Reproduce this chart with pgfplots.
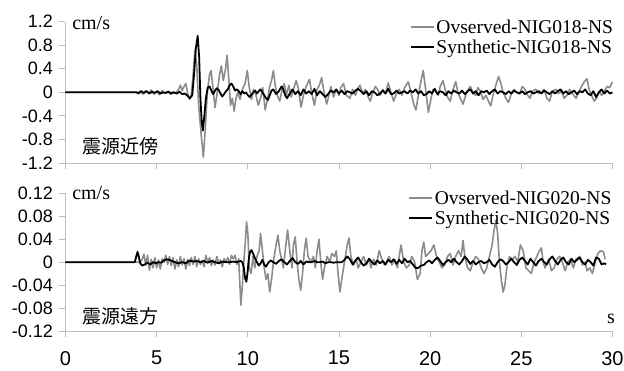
\documentclass[border=0pt]{standalone}
\usepackage{fontspec}
\setmainfont{Liberation Serif}
\newfontfamily\arialfont{Liberation Sans}
\newfontfamily\jpfont{Noto Sans CJK JP}
\usepackage{pgfplots}
\pgfplotsset{compat=1.18}
\definecolor{obsgray}{RGB}{140,140,140}
\definecolor{axgray}{RGB}{190,190,190}

\pgfplotstableread{
x y
0 0
4.0 0
4.1 0.02
4.25 -0.03
4.4 0.03
4.55 -0.02
4.7 0.04
4.85 -0.03
5.0 0.02
5.15 -0.04
5.3 0.03
5.45 -0.02
5.6 0.02
5.75 -0.03
5.9 0.01
6.05 -0.02
6.2 0.05
6.3 0.12
6.4 0.03
6.5 0.1
6.6 0.15
6.7 -0.02
6.8 -0.12
6.9 -0.05
7.0 0.3
7.1 0.72
7.2 0.45
7.3 -0.2
7.45 -0.75
7.56 -1.1
7.66 -0.65
7.78 0.0
7.9 0.3
7.98 0.37
8.08 0.1
8.2 -0.26
8.3 -0.05
8.45 0.3
8.55 0.45
8.65 0.2
8.78 0.4
8.86 0.63
8.95 0.25
9.05 -0.22
9.15 -0.1
9.25 -0.32
9.35 -0.1
9.45 0.0
9.57 -0.12
9.7 0.05
9.85 0.15
9.97 0.37
10.07 0.1
10.2 -0.12
10.32 0.05
10.45 -0.05
10.57 -0.22
10.7 -0.1
10.82 0.08
10.95 -0.3
11.08 -0.12
11.2 0.1
11.3 0.2
11.4 0.37
11.5 0.12
11.62 -0.05
11.75 -0.15
11.88 0.05
12.0 0.15
12.12 -0.05
12.25 0.12
12.38 -0.08
12.5 0.05
12.65 0.2
12.78 0.05
12.92 -0.25
13.05 -0.05
13.2 0.1
13.38 0.22
13.5 0.0
13.65 -0.22
13.8 0.05
13.92 0.12
14.05 0.25
14.18 0.0
14.32 -0.2
14.45 -0.05
14.55 0.1
14.7 -0.08
14.85 0.05
15.0 -0.05
15.1 0.08
15.25 0.15
15.4 -0.05
15.6 -0.1
15.75 0.05
15.9 -0.05
16.05 0.08
16.15 0.12
16.3 -0.02
16.45 0.05
16.6 -0.08
16.72 -0.15
16.85 0.0
17.0 0.1
17.12 0.05
17.25 -0.05
17.4 0.05
17.55 -0.02
17.7 0.16
17.85 0.0
18.0 -0.15
18.15 -0.02
18.3 0.05
18.45 -0.05
18.6 0.08
18.8 0.18
18.95 0.0
19.1 -0.2
19.22 -0.3
19.35 -0.05
19.5 0.2
19.62 0.37
19.75 0.05
19.9 -0.34
20.02 -0.15
20.15 0.05
20.3 0.02
20.45 -0.05
20.55 0.1
20.7 0.2
20.82 0.05
20.95 -0.08
21.1 -0.15
21.25 0.05
21.4 0.18
21.52 0.0
21.65 -0.1
21.8 -0.2
21.95 -0.05
22.1 0.05
22.2 0.1
22.35 0.0
22.5 -0.05
22.62 0.08
22.75 0.02
22.9 -0.12
23.05 -0.05
23.2 -0.15
23.32 -0.23
23.45 -0.05
23.6 0.12
23.75 0.27
23.88 0.15
24.0 0.0
24.15 -0.1
24.3 -0.17
24.45 -0.02
24.6 0.05
24.75 0.0
24.9 -0.02
25.05 0.1
25.2 0.05
25.35 -0.05
25.48 -0.1
25.6 0.02
25.8 0.05
25.95 -0.02
26.1 0.0
26.25 0.05
26.4 -0.1
26.55 -0.15
26.7 0.02
26.9 0.05
27.05 -0.02
27.2 0.02
27.35 -0.1
27.5 -0.05
27.65 0.05
27.8 -0.02
28.0 -0.1
28.15 0.0
28.3 0.1
28.45 0.18
28.6 0.23
28.72 0.05
28.85 -0.05
29.0 -0.15
29.12 -0.1
29.28 0.02
29.4 -0.05
29.55 0.02
29.7 0.1
29.85 0.08
30.0 0.18
}\obsA

\pgfplotstableread{
x y
0 0
3.9 0
4.0 -0.02
4.15 0.02
4.3 -0.01
4.45 0.02
4.6 -0.02
4.75 0.01
4.9 -0.01
5.05 0.02
5.2 -0.02
5.35 0.0
5.5 -0.01
5.65 0.01
5.8 -0.02
5.95 0.0
6.1 -0.02
6.25 0.01
6.4 -0.03
6.55 -0.02
6.7 -0.06
6.82 -0.1
6.95 -0.05
7.05 0.3
7.15 0.75
7.25 0.96
7.33 0.6
7.4 -0.1
7.47 -0.5
7.53 -0.65
7.6 -0.45
7.7 -0.1
7.8 0.08
7.9 0.1
8.0 0.03
8.1 -0.03
8.2 0.03
8.3 0.07
8.4 0.04
8.5 -0.02
8.6 -0.07
8.7 -0.03
8.8 0.02
8.9 0.05
9.0 0.12
9.1 0.15
9.2 0.1
9.3 0.03
9.4 0.05
9.5 0.02
9.6 -0.03
9.7 0.02
9.8 -0.02
9.9 0.0
10.0 -0.05
10.1 -0.08
10.2 -0.04
10.3 0.0
10.4 0.03
10.5 -0.02
10.6 0.02
10.7 0.05
10.8 0.0
10.9 -0.05
11.0 -0.1
11.1 -0.13
11.2 -0.05
11.3 0.03
11.4 0.05
11.55 -0.03
11.7 0.02
11.85 0.1
11.95 0.05
12.05 -0.05
12.15 -0.1
12.3 -0.02
12.45 0.05
12.6 -0.03
12.75 0.02
12.9 -0.05
13.05 0.05
13.2 -0.02
13.35 0.02
13.5 -0.03
13.65 0.06
13.8 -0.05
13.95 0.02
14.1 -0.03
14.25 -0.08
14.4 -0.03
14.55 0.03
14.7 0.0
14.85 0.05
15.0 -0.02
15.15 0.03
15.3 -0.03
15.45 0.02
15.6 0.0
15.75 -0.02
15.9 0.03
16.05 0.06
16.2 0.02
16.35 -0.03
16.5 0.02
16.65 -0.05
16.8 0.02
16.95 0.0
17.1 -0.05
17.25 -0.02
17.4 0.03
17.55 -0.02
17.7 0.06
17.85 -0.03
18.0 -0.02
18.15 0.03
18.3 -0.02
18.45 0.0
18.6 0.02
18.75 -0.02
18.9 0.03
19.05 0.0
19.2 0.05
19.35 -0.02
19.5 0.02
19.65 -0.05
19.8 -0.03
19.95 0.02
20.1 -0.02
20.25 0.06
20.4 -0.03
20.55 0.02
20.7 0.0
20.85 -0.05
21.0 0.02
21.15 -0.02
21.3 0.03
21.45 0.0
21.6 -0.02
21.75 0.03
21.9 -0.03
22.05 0.02
22.2 0.05
22.35 -0.02
22.5 0.02
22.65 -0.05
22.8 0.02
22.95 0.0
23.1 0.03
23.25 -0.03
23.4 0.02
23.55 0.05
23.7 -0.02
23.85 0.02
24.0 0.0
24.15 -0.03
24.3 0.02
24.45 -0.02
24.6 0.03
24.75 0.0
24.9 -0.02
25.05 0.02
25.2 -0.03
25.35 0.0
25.5 0.02
25.65 -0.02
25.8 0.0
25.95 0.02
26.1 -0.02
26.25 0.03
26.4 0.0
26.55 -0.03
26.7 0.02
26.85 -0.02
27.0 0.02
27.15 0.05
27.3 -0.02
27.45 0.02
27.6 -0.03
27.75 0.0
27.9 0.03
28.05 -0.03
28.2 0.02
28.35 0.0
28.5 0.05
28.65 -0.02
28.8 -0.05
28.95 0.02
29.1 -0.08
29.25 0.0
29.4 0.05
29.55 -0.02
29.7 0.03
29.85 -0.02
30.0 0.0
}\synA

\pgfplotstableread{
x y
0 0
4.1 0
4.2 0.005
4.3 0.014
4.4 -0.005
4.5 0.012
4.6 -0.014
4.7 0.005
4.8 -0.01
4.9 0.008
5.0 -0.01
5.1 0.004
5.2 -0.012
5.3 0.006
5.4 0.0
5.5 0.012
5.6 -0.004
5.7 0.01
5.8 -0.006
5.9 0.008
6.0 -0.012
6.1 0.004
6.2 -0.008
6.3 0.01
6.4 -0.005
6.5 0.006
6.6 -0.012
6.7 0.005
6.8 -0.006
6.9 0.008
7.0 -0.004
7.1 0.01
7.2 -0.008
7.3 0.006
7.4 -0.004
7.5 0.003
7.6 -0.008
7.7 0.012
7.8 0.0
7.9 0.008
8.0 -0.006
8.1 0.004
8.2 -0.005
8.3 0.01
8.4 -0.002
8.5 0.004
8.6 -0.008
8.7 0.006
8.8 0.0
8.9 0.008
9.0 -0.004
9.1 0.012
9.2 0.006
9.3 0.012
9.4 -0.004
9.5 0.006
9.55 -0.03
9.62 -0.075
9.7 -0.04
9.78 0.0
9.85 0.03
9.93 0.07
10.0 0.05
10.08 -0.01
10.18 -0.02
10.28 0.01
10.38 -0.01
10.5 0.01
10.62 0.02
10.7 0.05
10.8 0.02
10.9 -0.01
11.0 -0.03
11.1 -0.02
11.2 -0.052
11.3 -0.03
11.42 0.005
11.55 0.03
11.65 0.047
11.75 0.02
11.85 0.005
11.95 -0.01
12.05 0.02
12.18 0.056
12.3 0.02
12.42 -0.01
12.5 0.03
12.6 0.044
12.7 0.0
12.8 -0.03
12.9 -0.049
13.0 -0.02
13.1 0.02
13.2 0.042
13.3 0.01
13.45 0.0
13.6 0.01
13.7 -0.01
13.8 0.02
13.9 0.04
14.0 0.0
14.1 -0.03
14.2 -0.01
14.35 0.01
14.5 0.0
14.6 0.015
14.75 0.01
14.85 0.02
14.95 -0.02
15.05 -0.052
15.15 -0.03
15.3 0.0
15.45 0.03
15.55 0.042
15.65 0.01
15.8 -0.005
15.95 0.005
16.05 -0.01
16.2 0.0
16.35 0.01
16.5 -0.005
16.65 0.005
16.75 -0.01
16.9 0.005
17.05 -0.005
17.2 0.02
17.35 0.005
17.5 -0.005
17.6 0.0
17.75 0.01
17.9 -0.005
18.05 0.005
18.2 -0.01
18.3 0.01
18.4 0.03
18.55 0.0
18.7 -0.01
18.85 -0.005
19.0 0.01
19.15 0.0
19.3 -0.03
19.45 -0.02
19.55 0.02
19.65 0.035
19.75 0.01
19.9 0.015
20.05 0.02
20.2 0.03
20.35 0.01
20.5 0.0
20.65 -0.01
20.8 -0.005
20.95 0.01
21.1 0.015
21.25 -0.005
21.4 0.01
21.55 0.02
21.7 0.01
21.8 0.038
21.9 0.01
22.05 -0.01
22.2 -0.015
22.35 0.0
22.5 0.01
22.65 0.005
22.8 -0.01
22.95 -0.02
23.1 -0.01
23.25 0.01
23.4 0.03
23.5 0.055
23.6 0.073
23.7 0.05
23.8 0.0
23.9 -0.03
24.0 -0.052
24.1 -0.04
24.2 -0.01
24.35 0.01
24.5 0.005
24.65 0.01
24.8 0.0
24.95 0.03
25.1 0.02
25.25 -0.01
25.4 -0.015
25.55 -0.02
25.7 0.0
25.85 0.01
26.0 0.02
26.1 0.025
26.2 0.0
26.3 -0.01
26.5 0.005
26.65 -0.015
26.8 -0.01
26.95 0.005
27.1 0.01
27.25 0.0
27.4 -0.015
27.55 0.0
27.7 0.005
27.85 -0.01
28.0 0.005
28.2 0.01
28.35 -0.005
28.5 0.0
28.6 -0.015
28.75 -0.01
28.9 -0.02
29.05 0.0
29.2 0.015
29.35 0.02
29.5 0.018
29.6 0.005
}\obsB

\pgfplotstableread{
x y
0 0
3.8 0
3.88 0.01
3.95 0.018
4.02 0.01
4.1 -0.002
4.2 -0.006
4.35 -0.004
4.5 -0.001
4.65 -0.004
4.8 0.0
4.95 -0.002
5.1 0.0
5.25 -0.001
5.4 0.003
5.55 0.005
5.7 0.004
5.85 0.002
6.0 0.0
6.2 -0.002
6.4 0.0
6.6 -0.002
6.8 0.003
7.0 0.001
7.2 0.002
7.4 0.0
7.6 0.002
7.8 -0.001
8.0 0.002
8.2 0.0
8.4 -0.002
8.6 0.001
8.8 0.0
9.0 0.0
9.2 0.001
9.4 0.0
9.6 0.002
9.7 0.0
9.78 -0.01
9.85 -0.028
9.92 -0.034
9.98 -0.02
10.05 0.005
10.12 0.018
10.2 0.021
10.3 0.014
10.4 0.006
10.5 0.0
10.6 -0.006
10.7 -0.002
10.8 0.004
10.9 -0.004
11.0 -0.008
11.1 -0.002
11.25 0.003
11.4 0.0
11.55 -0.003
11.7 0.002
11.85 0.005
12.0 0.0
12.15 -0.004
12.3 0.002
12.45 0.007
12.6 0.0
12.75 -0.003
12.9 0.002
13.05 -0.004
13.2 0.001
13.35 0.0
13.5 0.0
13.65 0.002
13.8 0.0
13.95 0.0
14.1 0.001
14.25 -0.002
14.4 0.0
14.55 0.0
14.7 -0.001
14.85 0.0
15.0 0.0
15.15 0.0
15.3 0.004
15.45 0.01
15.6 0.005
15.75 -0.004
15.9 0.003
16.05 0.008
16.2 0.0
16.35 -0.006
16.5 -0.002
16.65 0.006
16.8 0.0
16.95 -0.004
17.1 0.003
17.25 -0.002
17.4 0.002
17.55 -0.004
17.7 0.004
17.85 0.0
18.0 0.005
18.15 -0.003
18.3 0.004
18.45 -0.002
18.6 0.006
18.75 0.0
18.9 0.002
19.05 -0.004
19.2 -0.01
19.35 -0.01
19.5 -0.006
19.65 -0.005
19.8 0.0
19.95 0.003
20.1 -0.002
20.25 0.004
20.4 0.008
20.55 0.002
20.7 -0.005
20.85 0.0
21.0 0.004
21.15 0.0
21.3 0.006
21.45 0.0
21.6 -0.004
21.75 0.002
21.9 0.01
22.05 0.004
22.2 -0.003
22.35 0.002
22.5 -0.004
22.65 0.0
22.8 0.002
22.95 -0.002
23.1 0.0
23.25 0.004
23.4 -0.004
23.55 -0.008
23.7 0.0
23.85 0.005
24.0 0.002
24.15 -0.004
24.3 0.0
24.45 0.006
24.6 0.0
24.75 -0.005
24.9 0.004
25.05 0.008
25.2 0.002
25.35 -0.004
25.5 0.006
25.65 0.0
25.8 -0.006
25.95 0.002
26.1 0.006
26.25 0.0
26.4 -0.004
26.55 0.005
26.7 0.01
26.85 0.002
27.0 -0.004
27.15 0.004
27.3 0.008
27.45 0.0
27.6 -0.004
27.75 0.006
27.9 0.0
28.05 0.004
28.2 0.008
28.35 0.0
28.5 -0.004
28.65 0.004
28.8 0.0
28.95 -0.006
29.1 0.008
29.25 0.006
29.4 -0.004
29.55 -0.002
29.65 -0.004
}\synB

\pgfplotsset{
 wave/.style={
  scale only axis, width=547pt, xmin=0, xmax=30,
  axis lines*=left,
  axis line style={axgray, line width=0.8pt},
  tick style={axgray, line width=0.8pt},
  tick align=outside, major tick length=6pt,
  xtick={0,5,10,15,20,25,30},
  yticklabel style={font=\arialfont\fontsize{18}{18}\selectfont, text=black, xshift=-3pt},
  xticklabel style={font=\arialfont\fontsize{20}{20}\selectfont, text=black, yshift=-10.5pt},
  legend style={draw=none, fill=none, font=\fontsize{19.5}{20}\selectfont, anchor=north east, legend cell align=left, row sep=1pt, inner sep=0pt},
  clip=false,
 },
 obs/.style={obsgray, line width=1.6pt, line join=round},
 syn/.style={black, line width=1.8pt, line join=round},
}

\begin{document}
\begin{tikzpicture}
\path[use as bounding box] (-65.5pt,-39pt) rectangle (558.5pt,331pt);
% top panel
\begin{axis}[wave, at={(0pt,168pt)}, anchor=south west, height=141.3pt,
  ymin=-1.2, ymax=1.2,
  ytick={-1.2,-0.8,-0.4,0,0.4,0.8,1.2},
  yticklabels={-1.2,-0.8,-0.4,0,0.4,0.8,1.2},
  xticklabels={},
  legend image code/.code={\draw[#1] (0pt,0pt) -- (23pt,0pt);},
  legend style={at={(rel axis cs:1.005,1.03)}},
]
\addplot[obs] table {\obsA};
\addlegendentry{Ovserved-NIG018-NS}
\addplot[syn] table {\synA};
\addlegendentry{Synthetic-NIG018-NS}
\node[anchor=base west, inner sep=0pt, font=\fontsize{20}{20}\selectfont] at (rel axis cs:0.012,0.948) {cm/s};
\node[anchor=west, inner sep=0pt, font=\jpfont\fontsize{19}{19}\selectfont] at (rel axis cs:0.031,0.117) {震源近傍};
\end{axis}
% bottom panel
\begin{axis}[wave, at={(0pt,0pt)}, anchor=south west, height=137.7pt,
  ymin=-0.12, ymax=0.12,
  ytick={-0.12,-0.08,-0.04,0,0.04,0.08,0.12},
  yticklabels={-0.12,-0.08,-0.04,0,0.04,0.08,0.12},
  xticklabels={0,5,10,15,20,25,30},
  legend image code/.code={\draw[#1] (0pt,0pt) -- (23pt,0pt);},
  legend style={at={(rel axis cs:1.002,1.035)}},
]
\addplot[obs] table {\obsB};
\addlegendentry{Ovserved-NIG020-NS}
\addplot[syn] table {\synB};
\addlegendentry{Synthetic-NIG020-NS}
\node[anchor=base west, inner sep=0pt, font=\fontsize{20}{20}\selectfont] at (rel axis cs:0.012,0.955) {cm/s};
\node[anchor=west, inner sep=0pt, font=\jpfont\fontsize{19}{19}\selectfont] at (rel axis cs:0.031,0.105) {震源遠方};
\node[anchor=base west, inner sep=0pt, font=\fontsize{20}{20}\selectfont] at (rel axis cs:0.99,0.058) {s};
\end{axis}
\end{tikzpicture}
\end{document}
